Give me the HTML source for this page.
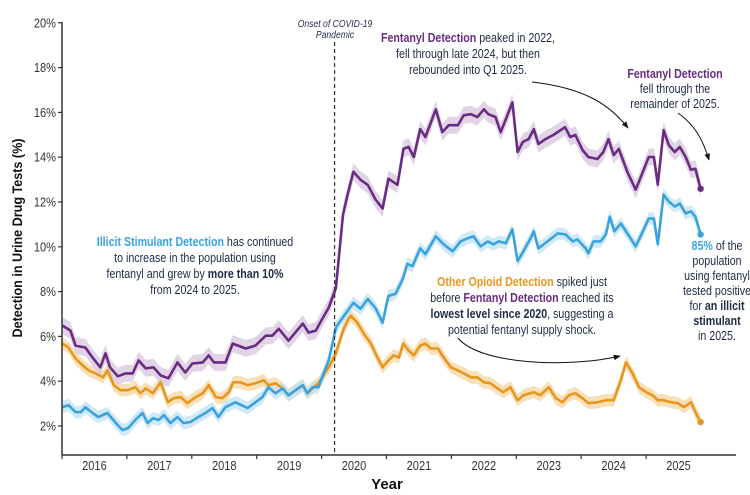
<!DOCTYPE html>
<html><head><meta charset="utf-8">
<style>
html,body{margin:0;padding:0;background:#fff;}
svg{display:block;font-family:"Liberation Sans Narrow","Liberation Sans",sans-serif;}
.ann{font-size:13px;fill:#1f2a44;}
.b{font-weight:bold;}
</style></head>
<body>
<svg id="chart" width="750" height="495" viewBox="0 0 750 495">
<defs>
<marker id="ah" viewBox="0 0 10 10" refX="9" refY="5" markerWidth="7" markerHeight="7" orient="auto"><path d="M0,1 L10,5 L0,9 z" fill="#111"/></marker>
</defs>
<g id="bands"></g>
<g id="lines"></g>
<g id="axes"></g>
<g id="annotations">
<text x="335" y="27" text-anchor="middle" font-size="10.5" font-style="italic" fill="#1f2a44" transform="translate(335,0) scale(0.82,1) translate(-335,0)"><tspan x="335">Onset of COVID-19</tspan><tspan x="335" dy="11">Pandemic</tspan></text>
<text class="ann" text-anchor="middle" transform="translate(468,0) scale(0.82,1) translate(-468,0)"><tspan x="468" y="42"><tspan fill="#6a2c80" font-weight="bold">Fentanyl Detection</tspan> peaked in 2022,</tspan><tspan x="468" y="58">fell through late 2024, but then</tspan><tspan x="468" y="74">rebounded into Q1 2025.</tspan></text>
<path d="M532,82 C585,88 610,105 628,128" fill="none" stroke="#111" stroke-width="1" marker-end="url(#ah)"/>
<text class="ann" text-anchor="middle" transform="translate(675,0) scale(0.82,1) translate(-675,0)"><tspan x="675" y="78" fill="#6a2c80" font-weight="bold">Fentanyl Detection</tspan><tspan x="675" y="93">fell through the</tspan><tspan x="675" y="108">remainder of 2025.</tspan></text>
<path d="M678,113 C695,125 703,140 709,160" fill="none" stroke="#111" stroke-width="1" marker-end="url(#ah)"/>
<text class="ann" text-anchor="middle" transform="translate(195,0) scale(0.82,1) translate(-195,0)"><tspan x="195" y="246"><tspan fill="#3aa3de" font-weight="bold">Illicit Stimulant Detection</tspan> has continued</tspan><tspan x="195" y="262">to increase in the population using</tspan><tspan x="195" y="278">fentanyl and grew by <tspan class="b">more than 10%</tspan></tspan><tspan x="195" y="294">from 2024 to 2025.</tspan></text>
<text class="ann" text-anchor="middle" transform="translate(522,0) scale(0.82,1) translate(-522,0)"><tspan x="522" y="286"><tspan fill="#e8961e" font-weight="bold">Other Opioid Detection</tspan> spiked just</tspan><tspan x="522" y="302">before <tspan fill="#6a2c80" font-weight="bold">Fentanyl Detection</tspan> reached its</tspan><tspan x="522" y="318"><tspan class="b">lowest level since 2020</tspan>, suggesting a</tspan><tspan x="522" y="334">potential fentanyl supply shock.</tspan></text>
<path d="M458,338 C480,365 570,368 620,356" fill="none" stroke="#111" stroke-width="1" marker-end="url(#ah)"/>
<text class="ann" text-anchor="middle" transform="translate(717,0) scale(0.82,1) translate(-717,0)"><tspan x="717" y="250"><tspan fill="#3aa3de" font-weight="bold">85%</tspan> of the</tspan><tspan x="717" y="265">population</tspan><tspan x="717" y="280">using fentanyl</tspan><tspan x="717" y="295">tested positive</tspan><tspan x="717" y="310">for <tspan class="b">an illicit</tspan></tspan><tspan x="717" y="325" class="b">stimulant</tspan><tspan x="717" y="340">in 2025.</tspan></text>
</g>
</svg>
<script>
const yTicks = [2,4,6,8,10,12,14,16,18,20];
const yearLabels = [2016,2017,2018,2019,2020,2021,2022,2023,2024,2025];
const covidOnset = 2020.2;

const fentanylDates = [2016.01,2016.13,2016.21,2016.36,2016.47,2016.59,2016.67,2016.74,2016.86,2016.98,2017.09,2017.18,2017.29,2017.41,2017.52,2017.64,2017.78,2017.90,2018.01,2018.17,2018.26,2018.34,2018.52,2018.63,2018.83,2018.98,2019.14,2019.24,2019.34,2019.49,2019.71,2019.80,2019.91,2020.02,2020.11,2020.22,2020.33,2020.40,2020.49,2020.60,2020.71,2020.83,2020.94,2021.03,2021.17,2021.26,2021.34,2021.42,2021.52,2021.60,2021.76,2021.86,2021.96,2022.10,2022.19,2022.30,2022.40,2022.50,2022.57,2022.68,2022.76,2022.84,2022.94,2023.02,2023.10,2023.19,2023.27,2023.34,2023.45,2023.57,2023.75,2023.83,2023.91,2024.02,2024.11,2024.25,2024.34,2024.42,2024.50,2024.58,2024.71,2024.84,2024.95,2025.04,2025.12,2025.18,2025.27,2025.35,2025.44,2025.52,2025.61,2025.69,2025.76,2025.84];
const fentanylValues = [6.48,6.26,5.59,5.50,5.06,4.62,5.24,4.62,4.22,4.35,4.35,4.93,4.57,4.62,4.26,4.13,4.84,4.39,4.79,4.84,5.15,4.84,4.84,5.68,5.46,5.59,6.03,6.03,6.34,5.81,6.57,6.17,6.26,6.83,7.28,8.16,11.44,12.33,13.35,12.99,12.77,12.11,11.71,13.04,12.77,14.37,14.46,14.01,15.25,14.90,16.14,15.12,15.43,15.43,15.87,15.92,15.79,16.14,15.92,15.79,15.12,15.70,16.45,14.23,14.68,14.81,15.25,14.59,14.81,14.99,15.34,14.90,14.99,14.32,14.01,13.92,14.23,14.81,14.10,14.37,13.35,12.55,13.35,14.01,14.01,12.77,15.21,14.54,14.23,14.46,14.01,13.44,13.48,12.59];

const stimulantDates = [2016.01,2016.10,2016.21,2016.29,2016.36,2016.47,2016.56,2016.70,2016.83,2016.93,2017.02,2017.13,2017.24,2017.32,2017.40,2017.49,2017.57,2017.67,2017.78,2017.87,2017.98,2018.10,2018.21,2018.32,2018.41,2018.52,2018.67,2018.86,2018.98,2019.09,2019.18,2019.29,2019.40,2019.49,2019.60,2019.71,2019.78,2019.86,2019.95,2020.11,2020.22,2020.26,2020.40,2020.49,2020.60,2020.71,2020.83,2020.94,2021.03,2021.14,2021.25,2021.32,2021.40,2021.52,2021.60,2021.76,2021.88,2022.02,2022.14,2022.25,2022.34,2022.45,2022.56,2022.65,2022.73,2022.84,2022.94,2023.02,2023.11,2023.22,2023.27,2023.34,2023.48,2023.64,2023.76,2023.87,2023.94,2024.07,2024.11,2024.19,2024.30,2024.38,2024.44,2024.51,2024.61,2024.71,2024.84,2024.95,2025.04,2025.12,2025.18,2025.27,2025.35,2025.44,2025.52,2025.61,2025.69,2025.76,2025.84];
const stimulantValues = [2.84,2.93,2.62,2.62,2.84,2.58,2.40,2.58,2.13,1.82,1.91,2.27,2.58,2.13,2.35,2.27,2.49,2.13,2.40,2.13,2.18,2.40,2.58,2.80,2.40,2.84,3.06,2.80,3.06,3.29,3.73,3.46,3.68,3.37,3.60,3.82,3.46,3.73,3.73,4.93,6.39,6.57,7.14,7.50,7.23,7.67,7.27,6.61,7.81,7.90,8.56,9.23,9.14,9.93,9.67,10.47,10.11,9.80,10.24,10.38,10.47,10.02,10.24,10.11,10.24,10.16,10.78,9.36,9.80,10.38,10.69,9.93,10.24,10.60,10.55,10.24,10.33,9.93,9.71,10.24,10.24,10.55,11.35,10.69,11.04,10.60,10.02,10.69,11.26,11.26,10.11,12.33,12.02,11.80,11.93,11.49,11.58,11.35,10.55];

const opioidDates = [2016.01,2016.10,2016.21,2016.32,2016.41,2016.52,2016.63,2016.70,2016.80,2016.90,2017.02,2017.13,2017.21,2017.29,2017.40,2017.52,2017.63,2017.72,2017.83,2017.93,2018.06,2018.17,2018.26,2018.37,2018.47,2018.57,2018.64,2018.75,2018.86,2018.98,2019.11,2019.18,2019.29,2019.40,2019.49,2019.60,2019.71,2019.78,2019.86,2019.95,2020.11,2020.22,2020.33,2020.40,2020.45,2020.55,2020.65,2020.76,2020.86,2020.94,2021.03,2021.11,2021.19,2021.26,2021.34,2021.42,2021.52,2021.60,2021.68,2021.79,2021.88,2021.99,2022.10,2022.19,2022.30,2022.40,2022.50,2022.60,2022.71,2022.80,2022.91,2023.02,2023.11,2023.27,2023.37,2023.50,2023.61,2023.71,2023.81,2023.91,2024.02,2024.11,2024.25,2024.38,2024.50,2024.61,2024.69,2024.79,2024.89,2025.00,2025.10,2025.18,2025.27,2025.38,2025.49,2025.58,2025.69,2025.76,2025.84];
const opioidValues = [5.68,5.50,5.01,4.70,4.48,4.35,4.17,4.48,3.82,3.60,3.60,3.73,3.46,3.68,3.46,3.95,3.06,3.24,3.29,3.02,3.29,3.46,3.82,3.29,3.24,3.51,3.95,3.95,3.82,3.91,4.04,3.82,3.91,3.68,3.37,3.60,3.82,3.46,3.68,3.91,4.62,5.24,6.26,6.70,6.92,6.61,6.12,5.68,5.06,4.62,4.93,5.15,5.06,5.68,5.37,5.15,5.59,5.68,5.46,5.46,5.06,4.62,4.48,4.35,4.17,4.17,3.95,3.91,3.68,3.51,3.73,3.15,3.37,3.51,3.37,3.73,3.24,3.06,3.37,3.46,3.24,3.02,3.06,3.15,3.15,4.04,4.84,4.35,3.73,3.51,3.37,3.15,3.15,3.06,3.02,2.84,3.06,2.62,2.18];

const NS = "http://www.w3.org/2000/svg";
const X0 = 62, PXY = 64.9, T0 = 2016;
const Y2 = 426, PXV = 22.4;
function xScale(t){ return X0 + (t - T0) * PXY; }
function yScale(v){ return Y2 - (v - 2) * PXV; }
function mk(tag, attrs, parent){
  const e = document.createElementNS(NS, tag);
  for (const k in attrs) e.setAttribute(k, attrs[k]);
  parent.appendChild(e); return e;
}
const axes = document.getElementById('axes');
const bands = document.getElementById('bands');
const lines = document.getElementById('lines');

const yAxis = mk('line',{x1:X0,y1:22,x2:X0,y2:455,stroke:'#333','stroke-width':1.5},axes);


const xAxis = mk('line',{x1:X0,y1:455,x2:736,y2:455,stroke:'#333','stroke-width':1.5},axes);


yTicks.forEach(v=>{
  const y = yScale(v);
  const tk = mk('line',{x1:X0-4,y1:y,x2:X0,y2:y,stroke:'#333','stroke-width':1.2},axes);
  
  
  const tx = mk('text',{x:X0-6,y:y+4.5,'text-anchor':'end','font-size':13,fill:'#333',transform:'translate('+(X0-6)+',0) scale(0.85,1) translate('+(-(X0-6))+',0)'},axes);
  tx.textContent = v + '%';
  
  
});
yearLabels.forEach(yr=>{
  const xt = xScale(yr);
  const tk = mk('line',{x1:xt,y1:455,x2:xt,y2:459,stroke:'#333','stroke-width':1.2},axes);
  
  
  const cx = xScale(yr+0.5);
  const tx = mk('text',{x:cx,y:470,'text-anchor':'middle','font-size':13,fill:'#333',transform:'translate('+cx+',0) scale(0.85,1) translate('+(-cx)+',0)'},axes);
  tx.textContent = yr;
  
  
});
const xt = mk('text',{x:387,y:489,'text-anchor':'middle','font-size':15,'font-weight':'bold',fill:'#111'},axes);
xt.textContent='Year';


const yt = mk('text',{x:0,y:0,'text-anchor':'middle','font-size':14,'font-weight':'bold',fill:'#111',transform:'translate(22,238) rotate(-90) scale(0.9,1)'},axes);
yt.textContent='Detection in Urine Drug Tests (%)';


const cv = mk('line',{x1:xScale(covidOnset),y1:42,x2:xScale(covidOnset),y2:455,stroke:'#333','stroke-width':1.2,'stroke-dasharray':'4,3'},axes);



function drawSeries(dates, vals, color, bandColor, halfW, name){
  const up = dates.map((t,i)=>xScale(t).toFixed(1)+','+yScale(vals[i]+halfW).toFixed(1));
  const dn = dates.map((t,i)=>xScale(t).toFixed(1)+','+yScale(vals[i]-halfW).toFixed(1)).reverse();
  const band = mk('path',{d:'M'+up.join('L')+'L'+dn.join('L')+'Z',fill:bandColor,opacity:0.75},bands);
  
  
  const pts = dates.map((t,i)=>xScale(t).toFixed(1)+','+yScale(vals[i]).toFixed(1));
  const ln = mk('path',{d:'M'+pts.join('L'),fill:'none',stroke:color,'stroke-width':2.6,'stroke-linejoin':'round'},lines);
  
  
  const n = dates.length-1;
  const dot = mk('circle',{cx:xScale(dates[n]),cy:yScale(vals[n]),r:3.2,fill:color},lines);
  
  
}
drawSeries(opioidDates, opioidValues, '#e8961e', '#f5d6a0', 0.28, 'other-opioid');
drawSeries(stimulantDates, stimulantValues, '#3aa3de', '#bfe1f6', 0.28, 'illicit-stimulant');
drawSeries(fentanylDates, fentanylValues, '#6a2c80', '#d8c5df', 0.38, 'fentanyl');
</script>
</body></html>
